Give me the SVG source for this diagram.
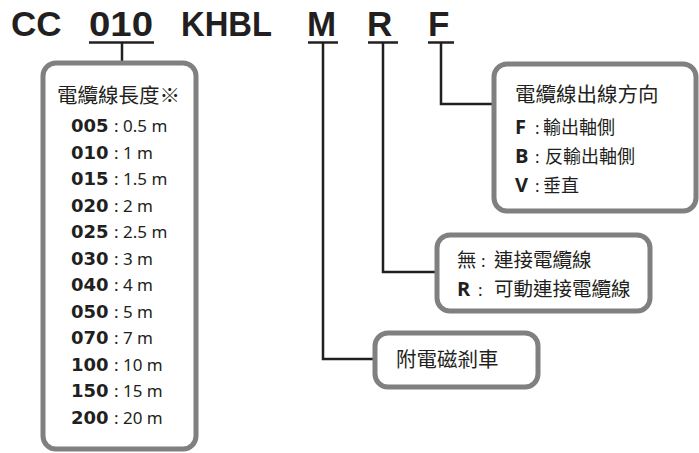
<svg xmlns="http://www.w3.org/2000/svg" width="699" height="453" viewBox="0 0 699 453">
<style>
.title{font-family:"Liberation Sans","Open Sans",sans-serif;font-weight:700;font-size:35px;fill:#231f20}
.box{fill:#fff;stroke:#808080;stroke-width:5}
.conn{fill:none;stroke:#231f20;stroke-width:2.5}
.cjk{font-family:"Noto Sans CJK TC","Noto Sans",sans-serif;fill:#231f20}
.num{font-family:"DejaVu Sans",sans-serif;font-weight:700;font-size:18px;fill:#231f20}
.val{font-family:"Noto Sans","Noto Sans CJK TC",sans-serif;font-size:17px;fill:#231f20}
.lt{font-family:"Open Sans","Liberation Sans",sans-serif;font-weight:700;font-size:20px;fill:#231f20}
</style>
<rect width="699" height="453" fill="#fff"/>
<g id="title">
<text class="title" x="11" y="36">CC</text>
<text class="title" x="89" y="36" textLength="64" lengthAdjust="spacingAndGlyphs">010</text>
<text class="title" x="181" y="36" textLength="91" lengthAdjust="spacingAndGlyphs">KHBL</text>
<text class="title" x="307" y="36">M</text>
<text class="title" x="367" y="36">R</text>
<text class="title" x="428" y="36">F</text>
</g>
<g id="connectors">
<line class="conn" x1="89" y1="42.5" x2="154" y2="42.5"/>
<line class="conn" x1="308" y1="42.5" x2="338" y2="42.5"/>
<line class="conn" x1="368" y1="42.5" x2="398" y2="42.5"/>
<line class="conn" x1="428" y1="42.5" x2="454" y2="42.5"/>
<line class="conn" x1="122" y1="42.5" x2="122" y2="63"/>
<polyline class="conn" points="323,42.5 323,359 375,359"/>
<polyline class="conn" points="383,42.5 383,272 437,272"/>
<polyline class="conn" points="441,42.5 441,104 494,104"/>
</g>
<g id="length-box">
<rect class="box" x="43" y="63" width="153" height="386" rx="13"/>
<text class="cjk" x="57" y="103" font-size="20.5">電纜線長度※</text>
<g class="num">
<text x="71" y="132">005</text>
<text x="71" y="158.5">010</text>
<text x="71" y="185">015</text>
<text x="71" y="211.5">020</text>
<text x="71" y="238">025</text>
<text x="71" y="264.5">030</text>
<text x="71" y="291">040</text>
<text x="71" y="317.5">050</text>
<text x="71" y="344">070</text>
<text x="71" y="370.5">100</text>
<text x="71" y="397">150</text>
<text x="71" y="423.5">200</text>
</g>
<g class="val">
<text x="114" y="132">: 0.5 m</text>
<text x="114" y="158.5">: 1 m</text>
<text x="114" y="185">: 1.5 m</text>
<text x="114" y="211.5">: 2 m</text>
<text x="114" y="238">: 2.5 m</text>
<text x="114" y="264.5">: 3 m</text>
<text x="114" y="291">: 4 m</text>
<text x="114" y="317.5">: 5 m</text>
<text x="114" y="344">: 7 m</text>
<text x="114" y="370.5">: 10 m</text>
<text x="114" y="397">: 15 m</text>
<text x="114" y="423.5">: 20 m</text>
</g>
</g>
<g id="direction-box">
<rect class="box" x="494" y="64" width="202" height="147" rx="13"/>
<text class="cjk" x="515" y="102" font-size="20.5">電纜線出線方向</text>
<text class="lt" x="515" y="134">F</text>
<text class="val" x="535" y="134">:</text>
<text class="cjk" x="543" y="134" font-size="18">輸出軸側</text>
<text class="lt" x="515" y="163">B</text>
<text class="val" x="535" y="163">:</text>
<text class="cjk" x="545" y="163" font-size="18">反輸出軸側</text>
<text class="lt" x="515" y="192">V</text>
<text class="val" x="535" y="192">:</text>
<text class="cjk" x="543" y="192" font-size="18">垂直</text>
</g>
<g id="cable-box">
<rect class="box" x="437" y="235" width="213" height="76" rx="13"/>
<text class="cjk" x="457" y="267" font-size="19.5">無</text>
<text class="val" x="481" y="267" font-size="19">:</text>
<text class="cjk" x="494" y="267" font-size="19.5">連接電纜線</text>
<text class="lt" x="457" y="296">R</text>
<text class="val" x="478" y="296" font-size="19">:</text>
<text class="cjk" x="494" y="296" font-size="19.5">可動連接電纜線</text>
</g>
<g id="brake-box">
<rect class="box" x="375" y="333" width="163" height="54" rx="13"/>
<text class="cjk" x="396" y="367" font-size="20.5">附電磁剎車</text>
</g>
</svg>
